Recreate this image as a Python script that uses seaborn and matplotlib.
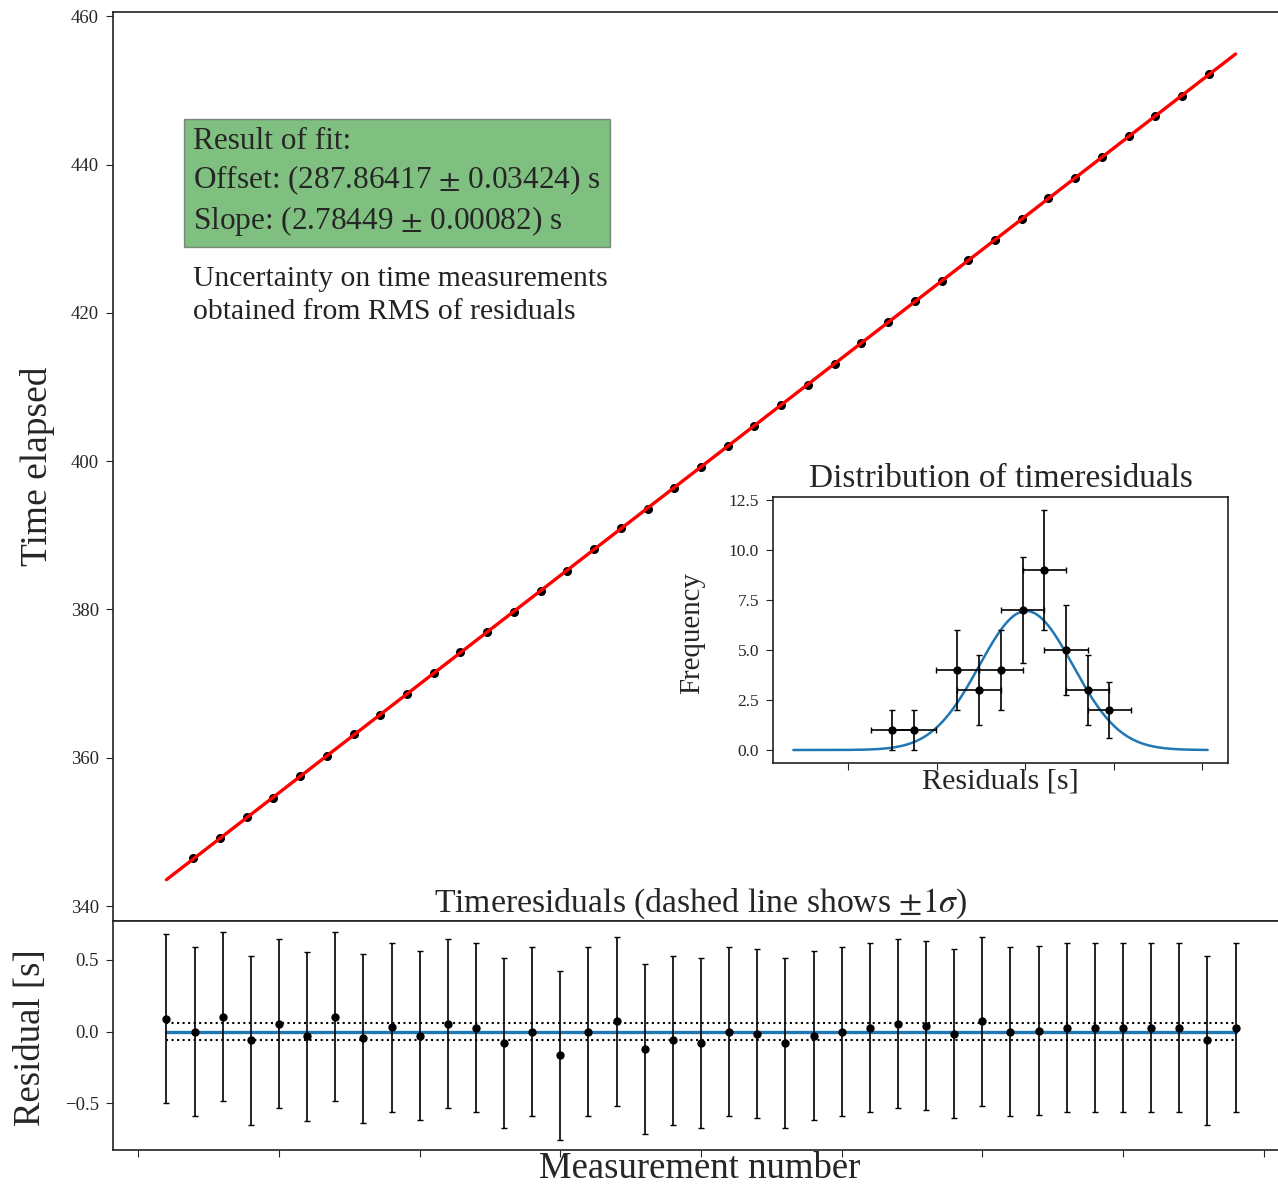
import numpy as np
import pandas as pd
import matplotlib
matplotlib.use("Agg")
import matplotlib.pyplot as plt
import seaborn as sns

# ---------------- data ----------------
meas_main = list(range(21, 60))
time_elapsed = [346.43, 349.12, 352.01, 354.63, 357.53, 360.23, 363.15, 365.78,
                368.64, 371.37, 374.24, 376.99, 379.67, 382.54, 385.16, 388.11,
                390.96, 393.55, 396.40, 399.16, 402.03, 404.80, 407.52, 410.35,
                413.17, 415.98, 418.79, 421.56, 424.29, 427.16, 429.87, 432.66,
                435.47, 438.25, 441.04, 443.82, 446.61, 449.30, 452.18]
fit_offset = 287.86417
fit_slope = 2.78449
fit_range = [20, 60]

meas_resid = list(range(1, 40))
residuals = [0.089, 0.000, 0.103, -0.061, 0.056, -0.033, 0.103, -0.045, 0.030,
             -0.028, 0.056, 0.026, -0.079, 0.000, -0.165, 0.000, 0.072, -0.121,
             -0.061, -0.079, 0.000, -0.014, -0.079, -0.028, 0.000, 0.026, 0.056,
             0.042, -0.014, 0.072, 0.000, 0.007, 0.026, 0.026, 0.026, 0.026,
             0.026, -0.061, 0.026]
resid_err = 0.59
resid_sigma = 0.058

hist_centers = [-0.1503, -0.1258, -0.0767, -0.0522, -0.0276, -0.0031,
                0.0214, 0.0460, 0.0705, 0.0951]
hist_counts = [1, 1, 4, 3, 4, 7, 9, 5, 3, 2]
hist_binw = 0.0245
gauss_amp, gauss_mu, gauss_sig = 6.95, 0.001, 0.053
gauss_range = [-0.262, 0.206]

# ---------------- style ----------------
sns.set_style("ticks")
plt.rcParams["font.family"] = ["Liberation Serif", "DejaVu Serif"]
plt.rcParams["mathtext.fontset"] = "stix"
plt.rcParams["axes.edgecolor"] = "#222222"
plt.rcParams["axes.linewidth"] = 1.2
plt.rcParams["xtick.direction"] = "out"
plt.rcParams["ytick.direction"] = "out"
plt.rcParams["xtick.major.size"] = 5
plt.rcParams["ytick.major.size"] = 5
plt.rcParams["ytick.major.pad"] = 5

W, H = 1278, 1186
fig = plt.figure(figsize=(W / 100, H / 100), dpi=100)

def fx(p):
    return p / W

def fy(p):
    return 1 - p / H

ax_main = fig.add_axes([fx(113), fy(921), fx(1289 - 113), (921 - 12) / H])
ax_res = fig.add_axes([fx(113), fy(1150), fx(1289 - 113), (1150 - 921) / H])
ax_in = fig.add_axes([fx(773), fy(763), fx(1228 - 773), (763 - 497) / H])

# ---------------- main panel ----------------
df_main = pd.DataFrame({"n": meas_main, "t": time_elapsed})
ax_main.errorbar(df_main["n"], df_main["t"], yerr=resid_sigma, fmt="o",
                 color="black", ms=5.5, capsize=0, zorder=2)
fit_x = np.array(fit_range, dtype=float)
df_fit = pd.DataFrame({"n": fit_x, "t": fit_offset + fit_slope * fit_x})
sns.lineplot(data=df_fit, x="n", y="t", ax=ax_main, color="red", lw=2.4, zorder=3)
ax_main.set_xlim(18, 62)
ax_main.set_ylim(337.98, 460.6)
ax_main.set_xticks(range(20, 61, 5))
ax_main.set_xticklabels([])
ax_main.set_yticks([340, 360, 380, 400, 420, 440, 460])
ax_main.tick_params(axis="y", labelsize=13.5)
ax_main.set_xlabel("")
ax_main.set_ylabel("Time elapsed", fontsize=27)
ax_main.yaxis.set_label_coords(-0.049, 0.5)

ax_main.text(0.068, 0.874,
             "Result of fit:\nOffset: (287.86417 $\\pm$ 0.03424) s\nSlope: (2.78449 $\\pm$ 0.00082) s",
             transform=ax_main.transAxes, ha="left", va="top", fontsize=22.5,
             linespacing=1.3,
             bbox=dict(boxstyle="square,pad=0.3", facecolor="green", alpha=0.5,
                       edgecolor="#333333"))
ax_main.text(0.068, 0.721,
             "Uncertainty on time measurements\nobtained from RMS of residuals",
             transform=ax_main.transAxes, ha="left", va="top", fontsize=21.3,
             linespacing=1.35, color="#222222")

# ---------------- residual panel ----------------
df_res = pd.DataFrame({"n": meas_resid, "r": residuals})
ax_res.errorbar(df_res["n"], df_res["r"], yerr=resid_err, fmt="o", color="black",
                ms=5, capsize=2, elinewidth=1.2, zorder=3)
xs = [meas_resid[0], meas_resid[-1]]
sns.lineplot(x=xs, y=[0, 0], ax=ax_res, color="#1f77b4", lw=2.4, zorder=2)
sns.lineplot(x=xs, y=[resid_sigma, resid_sigma], ax=ax_res, color="black",
             lw=1.5, ls=":", zorder=2)
sns.lineplot(x=xs, y=[-resid_sigma, -resid_sigma], ax=ax_res, color="black",
             lw=1.5, ls=":", zorder=2)
ax_res.set_xlim(-0.9, 40.9)
ax_res.set_ylim(-0.826, 0.772)
ax_res.set_xticks(range(0, 41, 5))
ax_res.set_xticklabels([])
ax_res.set_yticks([-0.5, 0.0, 0.5])
ax_res.tick_params(axis="y", labelsize=13.5)
ax_res.set_xlabel("Measurement number", fontsize=26.5)
ax_res.xaxis.set_label_coords(0.499, -0.008)
ax_res.set_ylabel("Residual [s]", fontsize=26.5)
ax_res.yaxis.set_label_coords(-0.055, 0.49)
ax_res.set_title("Timeresiduals (dashed line shows $\\pm 1\\sigma$)", fontsize=24.3,
                 pad=6)

# ---------------- inset ----------------
gx = np.linspace(gauss_range[0], gauss_range[1], 300)
gy = gauss_amp * np.exp(-0.5 * ((gx - gauss_mu) / gauss_sig) ** 2)
sns.lineplot(x=gx, y=gy, ax=ax_in, color="#1f77b4", lw=1.8, zorder=2)
ax_in.errorbar(hist_centers, hist_counts, xerr=hist_binw,
               yerr=np.sqrt(hist_counts), fmt="o", color="black", ms=5,
               capsize=2, elinewidth=1.2, zorder=3)
ax_in.set_xlim(-0.285, 0.229)
ax_in.set_ylim(-0.65, 12.65)
ax_in.set_xticks([-0.2, -0.1, 0.0, 0.1, 0.2])
ax_in.set_xticklabels([])
ax_in.set_yticks([0.0, 2.5, 5.0, 7.5, 10.0, 12.5])
ax_in.tick_params(axis="y", labelsize=12.5)
ax_in.set_title("Distribution of timeresiduals", fontsize=24, pad=7)
ax_in.set_xlabel("Residuals [s]", fontsize=21.7)
ax_in.xaxis.set_label_coords(0.5, -0.02)
ax_in.set_ylabel("Frequency", fontsize=20.8)
ax_in.yaxis.set_label_coords(-0.15, 0.49)

fig.savefig("out.png", dpi=100)
